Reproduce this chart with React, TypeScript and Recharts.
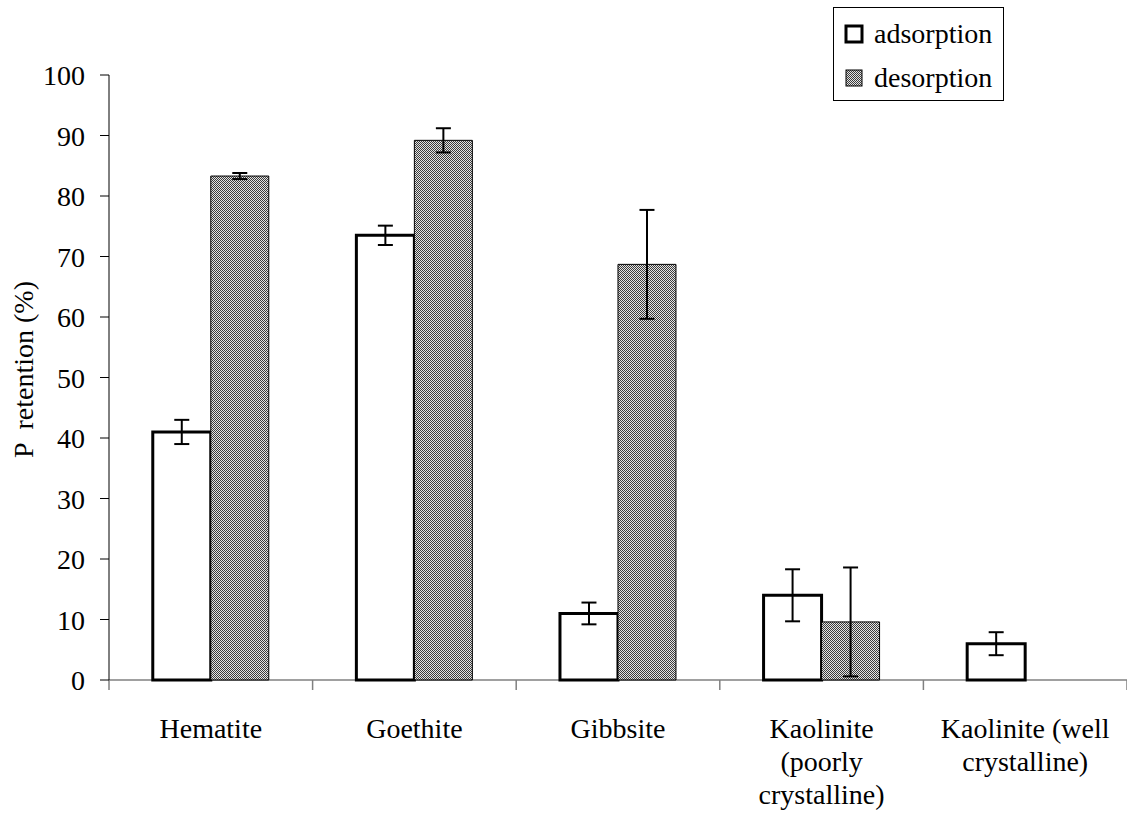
import React from 'react';
import { BarChart, Bar, XAxis, YAxis, ErrorBar, Legend, Label } from 'recharts';

const minerals = ['Hematite', 'Goethite', 'Gibbsite', 'Kaolinite (poorly crystalline)', 'Kaolinite (well crystalline)'];
const labelLines = [['Hematite'], ['Goethite'], ['Gibbsite'], ['Kaolinite', '(poorly', 'crystalline)'], ['Kaolinite (well', 'crystalline)']];
const adsorption = [41, 73.5, 11, 14, 6];
const adsorptionErr = [2, 1.6, 1.8, 4.3, 1.9];
const desorption = [83.3, 89.2, 68.7, 9.6, 0];
const desorptionErr = [0.5, 2, 9, 9, 0];
const yTicks = [0, 10, 20, 30, 40, 50, 60, 70, 80, 90, 100];

const W = 1127;
const H = 829;
const yAxisW = 109;
const band = (W - yAxisW) / minerals.length;
const font = "'Liberation Serif', 'Times New Roman', Tinos, 'DejaVu Serif', serif";

const data = minerals.map((m, i) => ({
  name: m,
  ads: adsorption[i],
  adsErr: adsorptionErr[i],
  des: desorption[i],
  desErr: desorptionErr[i],
}));

const XTick = (props: any) => {
  const { x, y, payload } = props;
  const lines = labelLines[payload.index] || [payload.value];
  return (
    <g>
      {payload.index === 0 && (
        <line x1={x - band / 2} x2={x - band / 2} y1={y} y2={y + 10} stroke="#808080" strokeWidth={1.5} />
      )}
      <line x1={x + band / 2} x2={x + band / 2} y1={y} y2={y + 10} stroke="#808080" strokeWidth={1.5} />
      <text x={x} y={y + 58} textAnchor="middle" style={{ fontFamily: font, fontSize: 28 }} fill="#000">
        {lines.map((l: string, i: number) => (
          <tspan key={i} x={x} dy={i === 0 ? 0 : 33}>{l}</tspan>
        ))}
      </text>
    </g>
  );
};

const YTick = (props: any) => {
  const { x, y, payload } = props;
  return (
    <g>
      <line x1={x - 9} x2={x} y1={y} y2={y} stroke="#000" strokeWidth={1} />
      <text x={x - 24} y={y + 10} textAnchor="end" style={{ fontFamily: font, fontSize: 28 }} fill="#000">
        {payload.value}
      </text>
    </g>
  );
};

const LegendBox = () => (
  <div
    style={{
      boxSizing: 'border-box',
      width: 171,
      height: 94,
      border: '1px solid #000',
      background: '#fff',
      fontFamily: font,
      fontSize: 28,
      color: '#000',
      padding: '4px 0 0 10px',
    }}
  >
    {[
      { label: 'adsorption', fill: '#fff', stroke: '#000', sw: 3 },
      { label: 'desorption', fill: 'url(#dots)', stroke: '#000', sw: 1 },
    ].map((it) => (
      <div key={it.label} style={{ display: 'flex', alignItems: 'center', height: 44 }}>
        <svg width={20} height={20} style={{ marginRight: 10 }}>
          <rect x={2} y={2} width={16} height={16} fill={it.fill} stroke={it.stroke} strokeWidth={it.sw} />
        </svg>
        <span style={{ lineHeight: '30px' }}>{it.label}</span>
      </div>
    ))}
  </div>
);

export default function App() {
  return (
    <div style={{ position: 'absolute', left: 0, top: 0, width: W, height: H, background: '#fff' }}>
      <BarChart
        width={W}
        height={H}
        data={data}
        margin={{ top: 75, right: 0, bottom: 0, left: 0 }}
        barCategoryGap="21.5%"
        barGap={0}
      >
        <defs>
          <pattern id="dots" width={2} height={2} patternUnits="userSpaceOnUse">
            <rect width={2} height={2} fill="#e4e4e4" />
            <rect width={1} height={1} fill="#3c3c3c" />
            <rect x={1} y={1} width={1} height={1} fill="#3c3c3c" />
          </pattern>
        </defs>
        <XAxis
          dataKey="name"
          height={149}
          interval={0}
          tickSize={0}
          tickMargin={0}
          tickLine={false}
          axisLine={{ stroke: '#808080', strokeWidth: 1.5 }}
          tick={<XTick />}
        />
        <YAxis
          width={yAxisW}
          domain={[0, 100]}
          ticks={yTicks}
          interval={0}
          tickSize={0}
          tickMargin={0}
          tickLine={false}
          axisLine={{ stroke: '#000', strokeWidth: 1 }}
          tick={<YTick />}
        >
          <Label
            content={(p: any) => {
              const vb = p.viewBox || { x: 0, y: 75, width: yAxisW, height: 605 };
              return (
                <text
                  transform={`translate(${vb.x + 33},${vb.y + vb.height / 2 - 8}) rotate(-90)`}
                  textAnchor="middle"
                  fill="#000"
                  style={{ whiteSpace: 'pre', fontFamily: font, fontSize: 28 }}
                >
                  {'P  retention (%)'}
                </text>
              );
            }}
          />
        </YAxis>
        <Legend
          layout="horizontal"
          verticalAlign="middle"
          align="center"
          wrapperStyle={{ position: 'absolute', top: 7, left: 833, width: 171, height: 94 }}
          content={() => <LegendBox />}
        />
        <Bar dataKey="ads" fill="#fff" stroke="#000" strokeWidth={3} isAnimationActive={false} zIndex={700}>
          <ErrorBar dataKey="adsErr" width={7.5} stroke="#000" strokeWidth={2} direction="y" zIndex={800} />
        </Bar>
        <Bar dataKey="des" fill="url(#dots)" stroke="#000" strokeWidth={1} isAnimationActive={false} zIndex={700}>
          <ErrorBar dataKey="desErr" width={7.5} stroke="#000" strokeWidth={2} direction="y" zIndex={800} />
        </Bar>
      </BarChart>
    </div>
  );
}
